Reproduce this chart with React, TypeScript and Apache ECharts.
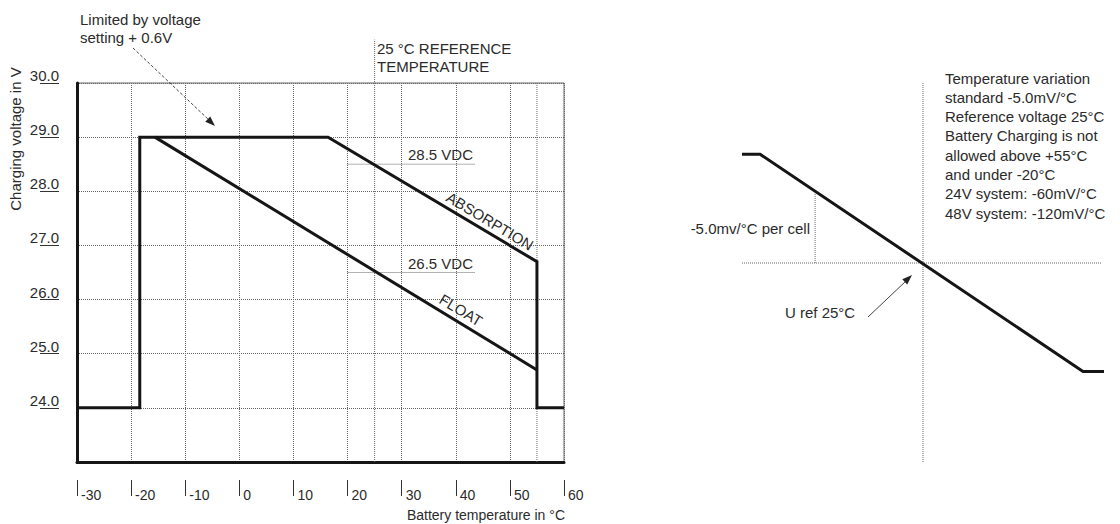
import React, { useEffect, useRef } from "react";
import * as echarts from "echarts";

// ---------- data (left chart) ----------
const tempTicks = [-30, -20, -10, 0, 10, 20, 30, 40, 50, 60];
const voltTicks = [24, 25, 26, 27, 28, 29, 30];
const absorptionCurve: [number, number][] = [
  [-30, 24.0], [-18.4, 24.0], [-18.4, 29.0], [16.4, 29.0], [55, 26.7], [55, 24.0], [60, 24.0],
];
const floatCurve: [number, number][] = [[-15.6, 29.0], [55, 24.7]];
const referenceTemp = 25;
const referenceLineTop = 30.8;
const cutoffTemp = 55;
const vdcLevels = [28.5, 26.5];
const vdcSpan = [20, 43.6];

// ---------- data (right schematic, relative units 0..100) ----------
const compensationCurve: [number, number][] = [[0, 81.2], [5, 81.2], [94.2, 23.9], [100, 23.9]];
const refPoint: [number, number] = [50, 52.5];
const perCellX = 20.2;
const perCellTop = 71;

const notes = [
  "Temperature variation",
  "standard -5.0mV/°C",
  "Reference voltage 25°C",
  "Battery Charging is not",
  "allowed above +55°C",
  "and under -20°C",
  "24V system: -60mV/°C",
  "48V system: -120mV/°C",
];

const FONT = '"Liberation Sans", Arial, sans-serif';
const TXT = "#2b2b2b";
const GRIDC = "#666666";

export default function App() {
  const ref = useRef<HTMLDivElement>(null);
  useEffect(() => {
    document.body.style.margin = "0";
    if (!ref.current) return;
    const chart = echarts.init(ref.current, undefined, { renderer: "svg" });

    const dotted = (data: number[][], xi: number, opts: any = {}) => ({
      type: "line",
      data,
      xAxisIndex: xi,
      yAxisIndex: xi === 2 ? 2 : 0,
      symbol: "none",
      silent: true,
      z: 1,
      lineStyle: { type: "dotted", color: GRIDC, width: 1 },
      ...opts,
    });
    const solid = (data: number[][], xi: number) => ({
      type: "line",
      data,
      xAxisIndex: xi,
      yAxisIndex: xi === 2 ? 2 : 0,
      symbol: "none",
      silent: true,
      z: 5,
      lineStyle: { color: "#151515", width: 3, join: "miter" },
    });

    const text = (t: string, x: number, y: number, extra: any = {}, rot = 0) => ({
      type: "text",
      x,
      y,
      rotation: rot,
      silent: true,
      z: 10,
      style: {
        text: t,
        fill: TXT,
        fontSize: 15,
        fontFamily: FONT,
        align: "left",
        verticalAlign: "middle",
        ...extra,
      },
    });

    const arrowHead = (tip: number[], from: number[]) => {
      const dx = tip[0] - from[0];
      const dy = tip[1] - from[1];
      const L = Math.hypot(dx, dy);
      const ux = dx / L, uy = dy / L;
      const bx = tip[0] - ux * 10, by = tip[1] - uy * 10;
      const px = -uy * 3.6, py = ux * 3.6;
      return {
        type: "polygon",
        silent: true,
        z: 10,
        shape: { points: [tip, [bx + px, by + py], [bx - px, by - py]] },
        style: { fill: "#222" },
      };
    };

    const option: any = {
      animation: false,
      backgroundColor: "#fff",
      grid: [
        { left: 77, top: 83, width: 487, height: 379, show: true, borderColor: "#666", borderWidth: 1 },
        { left: 742, top: 83, width: 362, height: 379 },
      ],
      xAxis: [
        {
          gridIndex: 0, type: "value", min: -30, max: 60, interval: 10, position: "bottom",
          axisLine: { show: true, onZero: false, lineStyle: { color: "#151515", width: 3 } },
          axisTick: { show: false }, axisLabel: { show: false },
          splitLine: { show: true, lineStyle: { type: "dotted", color: GRIDC, width: 1 } },
        },
        {
          gridIndex: 0, type: "value", min: -30, max: 60, interval: 10, position: "bottom", offset: 18,
          axisLine: { show: false, onZero: false },
          axisTick: { show: true, length: 16, customValues: tempTicks, lineStyle: { color: "#333", width: 1 } },
          axisLabel: {
            customValues: tempTicks, align: "left", margin: 8, padding: [0, 0, 0, 4],
            fontSize: 14, fontFamily: FONT, color: TXT, formatter: (v: number) => String(v),
          },
          splitLine: { show: false },
        },
        { gridIndex: 1, type: "value", min: 0, max: 100, show: false },
      ],
      yAxis: [
        {
          gridIndex: 0, type: "value", min: 23, max: 30, interval: 1, position: "left",
          axisLine: { show: true, onZero: false, lineStyle: { color: "#151515", width: 3 } },
          axisTick: { show: false }, axisLabel: { show: false },
          splitLine: { show: true, lineStyle: { type: "dotted", color: GRIDC, width: 1 } },
        },
        {
          gridIndex: 0, type: "value", min: 23, max: 30, interval: 1, position: "left", offset: 18,
          axisLine: { show: false, onZero: false },
          axisTick: { show: true, length: 19, customValues: voltTicks, lineStyle: { color: "#333", width: 1 } },
          axisLabel: {
            customValues: voltTicks, margin: 0, verticalAlign: "bottom",
            fontSize: 15, fontFamily: FONT, color: TXT, formatter: (v: number) => v.toFixed(1),
          },
          splitLine: { show: false },
        },
        { gridIndex: 1, type: "value", min: 0, max: 100, show: false },
      ],
      series: [
        dotted([[referenceTemp, 23], [referenceTemp, referenceLineTop]], 0, { clip: false }),
        dotted([[cutoffTemp, 23], [cutoffTemp, 30]], 0),
        ...vdcLevels.map((v) => dotted([[vdcSpan[0], v], [vdcSpan[1], v]], 0)),
        solid(absorptionCurve, 0),
        solid(floatCurve, 0),
        dotted([[0, refPoint[1]], [99.4, refPoint[1]]], 2),
        dotted([[refPoint[0], 0], [refPoint[0], 100]], 2),
        dotted([[perCellX, refPoint[1]], [perCellX, perCellTop]], 2),
        solid(compensationCurve, 2),
      ],
      graphic: [
        text("Limited by voltage\nsetting + 0.6V", 80, 28, { lineHeight: 18 }),
        { type: "line", silent: true, z: 10, shape: { x1: 133, y1: 48, x2: 209, y2: 120 },
          style: { stroke: "#444", lineWidth: 1, lineDash: [3, 2] } },
        arrowHead([215, 126], [133, 48]),
        text("25 °C REFERENCE\nTEMPERATURE", 377, 57, { lineHeight: 18 }),
        text("28.5 VDC", 408, 154),
        text("26.5 VDC", 408, 263),
        text("ABSORPTION", 490, 221, { align: "center" }, -0.54),
        text("FLOAT", 461, 310, { align: "center" }, -0.54),
        text("Charging voltage in V", 15, 139, { align: "center" }, Math.PI / 2),
        text("Battery temperature in °C", 565, 515, { align: "right", fontSize: 14 }),
        text("-5.0mv/°C per cell", 810, 228, { align: "right" }),
        text("U ref 25°C", 785, 312),
        { type: "line", silent: true, z: 10, shape: { x1: 868, y1: 317, x2: 906, y2: 281 },
          style: { stroke: "#444", lineWidth: 1 } },
        arrowHead([912, 275], [868, 317]),
        text(notes.join("\n"), 945, 78 + (notes.length - 1) * 19.3 / 2, { lineHeight: 19.3 }),
      ],
    };
    chart.setOption(option);
    return () => chart.dispose();
  }, []);
  return <div ref={ref} style={{ width: 1120, height: 524 }} />;
}
